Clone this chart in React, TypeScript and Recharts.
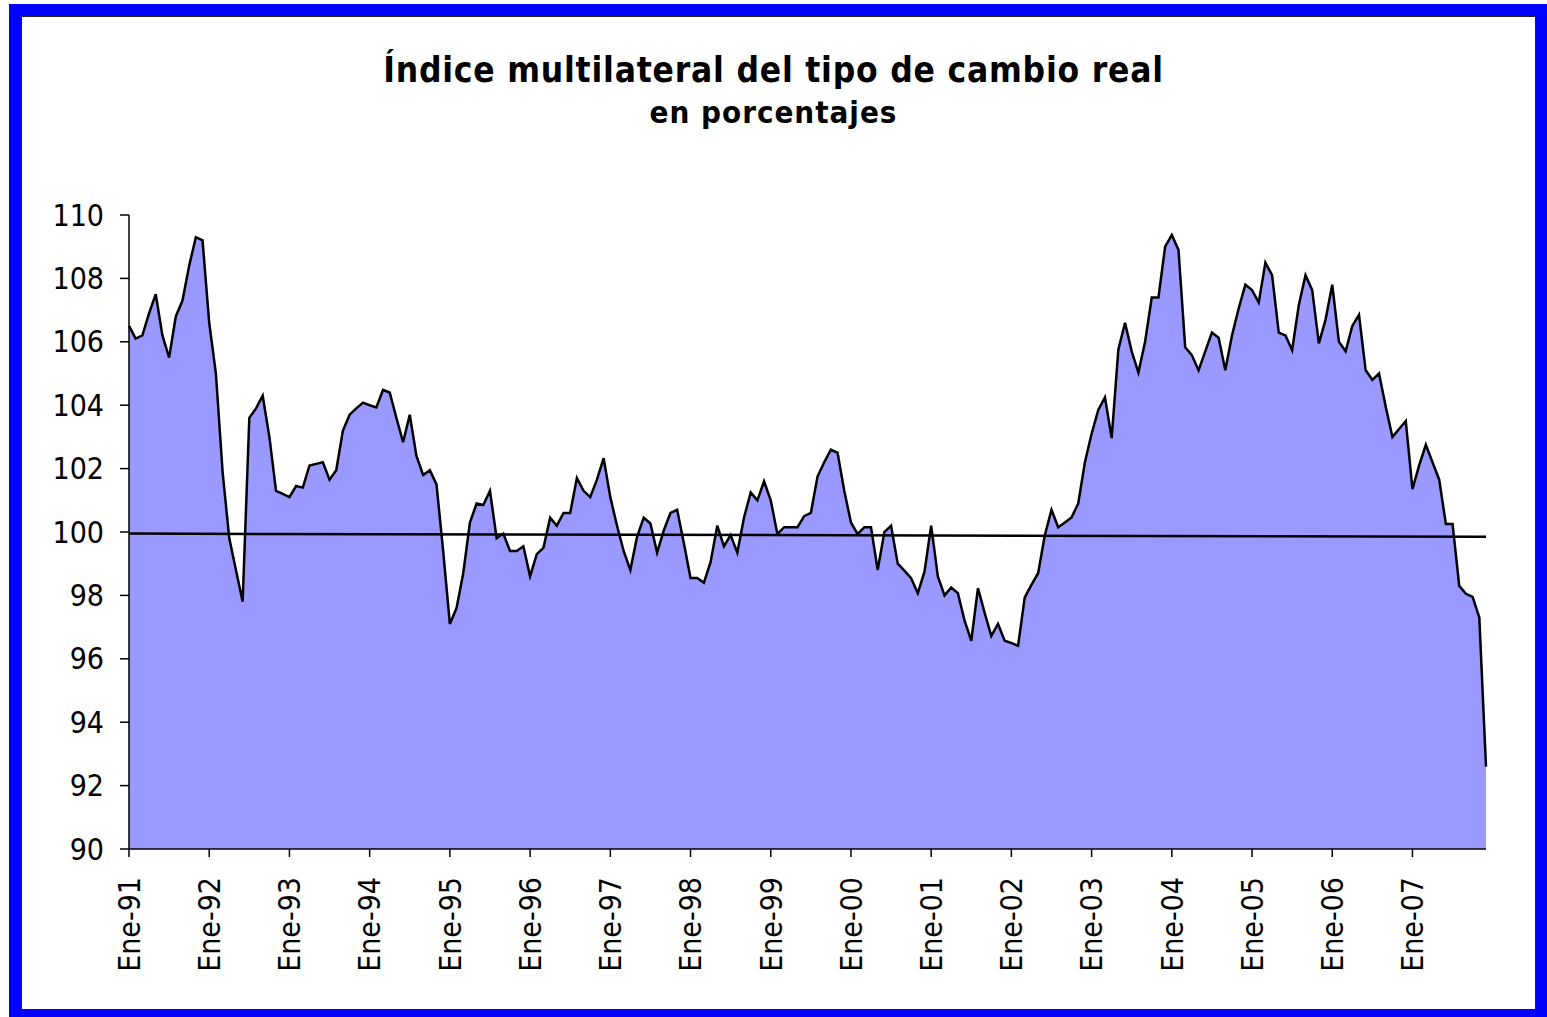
import { Area, AreaChart, ReferenceLine, XAxis, YAxis } from "recharts";

const MESES = ["Ene", "Feb", "Mar", "Abr", "May", "Jun", "Jul", "Ago", "Sep", "Oct", "Nov", "Dic"];
const ANIOS = ["91", "92", "93", "94", "95", "96", "97", "98", "99", "00", "01", "02", "03", "04", "05", "06", "07"];
const Y_TICKS = [90, 92, 94, 96, 98, 100, 102, 104, 106, 108, 110];

// índice mensual, base 100
const itcr1991 = [106.5, 106.1, 106.2, 106.9, 107.5, 106.2, 105.5, 106.8, 107.3, 108.4, 109.3, 109.2];
const itcr1992 = [106.6, 105.0, 101.9, 99.8, 98.8, 97.8, 103.6, 103.9, 104.3, 103.0, 101.3, 101.2];
const itcr1993 = [101.1, 101.45, 101.4, 102.1, 102.15, 102.2, 101.65, 101.95, 103.2, 103.7, 103.9, 104.08];
const itcr1994 = [104.0, 103.93, 104.48, 104.4, 103.6, 102.83, 103.7, 102.4, 101.8, 101.95, 101.5, 99.4];
const itcr1995 = [97.1, 97.6, 98.7, 100.3, 100.9, 100.85, 101.3, 99.8, 99.95, 99.4, 99.4, 99.55];
const itcr1996 = [98.6, 99.3, 99.5, 100.45, 100.2, 100.6, 100.6, 101.7, 101.3, 101.1, 101.65, 102.33];
const itcr1997 = [101.1, 100.2, 99.4, 98.8, 99.85, 100.45, 100.27, 99.35, 100.05, 100.6, 100.7, 99.65];
const itcr1998 = [98.55, 98.55, 98.4, 99.05, 100.2, 99.55, 99.9, 99.35, 100.45, 101.25, 101.0, 101.6];
const itcr1999 = [101.0, 99.93, 100.15, 100.15, 100.15, 100.5, 100.6, 101.75, 102.2, 102.6, 102.5, 101.3];
const itcr2000 = [100.3, 99.93, 100.15, 100.15, 98.8, 100.0, 100.2, 99.0, 98.78, 98.54, 98.07, 98.75];
const itcr2001 = [100.2, 98.6, 98.0, 98.25, 98.07, 97.2, 96.57, 98.23, 97.45, 96.72, 97.1, 96.57];
const itcr2002 = [96.5, 96.41, 97.94, 98.33, 98.7, 99.9, 100.7, 100.15, 100.3, 100.46, 100.9, 102.2];
const itcr2003 = [103.1, 103.85, 104.25, 102.96, 105.75, 106.6, 105.7, 105.03, 106.0, 107.4, 107.4, 109.0];
const itcr2004 = [109.37, 108.9, 105.83, 105.58, 105.1, 105.7, 106.29, 106.13, 105.1, 106.2, 107.05, 107.8];
const itcr2005 = [107.63, 107.24, 108.5, 108.1, 106.29, 106.2, 105.74, 107.16, 108.1, 107.63, 105.95, 106.7];
const itcr2006 = [107.8, 106.0, 105.7, 106.5, 106.85, 105.1, 104.8, 105.0, 103.95, 103.0, 103.25, 103.5];
const itcr2007 = [101.35, 102.1, 102.75, 102.2, 101.65, 100.25, 100.25, 98.3, 98.05, 97.95, 97.3, 92.6];

// línea de referencia (casi 100, levemente descendente)
const REF_INICIO = 99.95;
const REF_FIN = 99.85;

const valores = [
  ...itcr1991, ...itcr1992, ...itcr1993, ...itcr1994, ...itcr1995, ...itcr1996,
  ...itcr1997, ...itcr1998, ...itcr1999, ...itcr2000, ...itcr2001, ...itcr2002,
  ...itcr2003, ...itcr2004, ...itcr2005, ...itcr2006, ...itcr2007,
];
const meses = ANIOS.flatMap((a) => MESES.map((m) => `${m}-${a}`));
const datos = meses.map((mes, i) => ({ mes, indice: valores[i] }));
const ticksEnero = ANIOS.map((a) => `Ene-${a}`);

const FUENTE = "'DejaVu Sans Condensed', 'DejaVu Sans', sans-serif";

function TickMes({ x, y, payload }: any) {
  return (
    <g transform={`translate(${x},${y + 18}) rotate(-90)`}>
      <text textAnchor="end" dy="0.36em" fontSize={30} fontFamily={FUENTE} fill="#000">
        {payload.value}
      </text>
    </g>
  );
}

export default function App() {
  return (
    <div style={{ position: "relative", width: 1547, height: 1017, background: "#fff", overflow: "hidden" }}>
      <style>{"body{margin:0}"}</style>
      {/* marco azul */}
      <div
        style={{
          position: "absolute",
          left: 9,
          top: 4,
          width: 1538,
          height: 1013,
          boxSizing: "border-box",
          borderStyle: "solid",
          borderColor: "#0000ff",
          borderWidth: "12px 11px 7px 12px",
        }}
      />
      <div
        style={{
          position: "absolute",
          left: 21,
          top: 16,
          width: 1515,
          height: 994,
          boxSizing: "border-box",
          border: "1px solid #222",
        }}
      />

      <div
        style={{
          position: "absolute",
          top: 53,
          left: 0,
          width: 1547,
          textAlign: "center",
          fontFamily: FUENTE,
          fontWeight: "bold",
          lineHeight: 1,
        }}
      >
        <div style={{ fontSize: 35, letterSpacing: 0.8 }}>Índice multilateral del tipo de cambio real</div>
        <div style={{ fontSize: 31, letterSpacing: 1, marginTop: 9 }}>en porcentajes</div>
      </div>

      <div style={{ position: "absolute", left: 0, top: 0 }}>
        <AreaChart width={1547} height={1017} data={datos} margin={{ top: 215, right: 61, bottom: 28, left: 0 }}>
          <XAxis
            dataKey="mes"
            ticks={ticksEnero}
            interval={0}
            tick={<TickMes />}
            tickSize={8}
            tickLine={{ stroke: "#000", strokeWidth: 1.5 }}
            axisLine={{ stroke: "#000", strokeWidth: 1.5 }}
            height={140}
          />
          <XAxis xAxisId="borde" dataKey="mes" orientation="top" height={0} tick={false} tickLine={false} axisLine={{ stroke: "#808080", strokeWidth: 1.5 }} />
          <YAxis
            domain={[90, 110]}
            ticks={Y_TICKS}
            interval={0}
            width={129}
            tickSize={9}
            tickMargin={16}
            tick={{ fill: "#000", fontSize: 30, fontFamily: FUENTE }}
            tickLine={{ stroke: "#000", strokeWidth: 1.5 }}
            axisLine={{ stroke: "#000", strokeWidth: 1.5 }}
          />
          <YAxis yAxisId="borde" orientation="right" width={0} domain={[90, 110]} tick={false} tickLine={false} axisLine={{ stroke: "#808080", strokeWidth: 1.5 }} />
          <Area
            type="linear"
            dataKey="indice"
            stroke="#000"
            strokeWidth={2.5}
            fill="#9999ff"
            fillOpacity={1}
            dot={false}
            activeDot={false}
            isAnimationActive={false}
          />
          <ReferenceLine
            segment={[
              { x: meses[0], y: REF_INICIO },
              { x: meses[meses.length - 1], y: REF_FIN },
            ]}
            stroke="#000"
            strokeWidth={2.5}
            ifOverflow="visible"
          />
        </AreaChart>
      </div>
    </div>
  );
}
